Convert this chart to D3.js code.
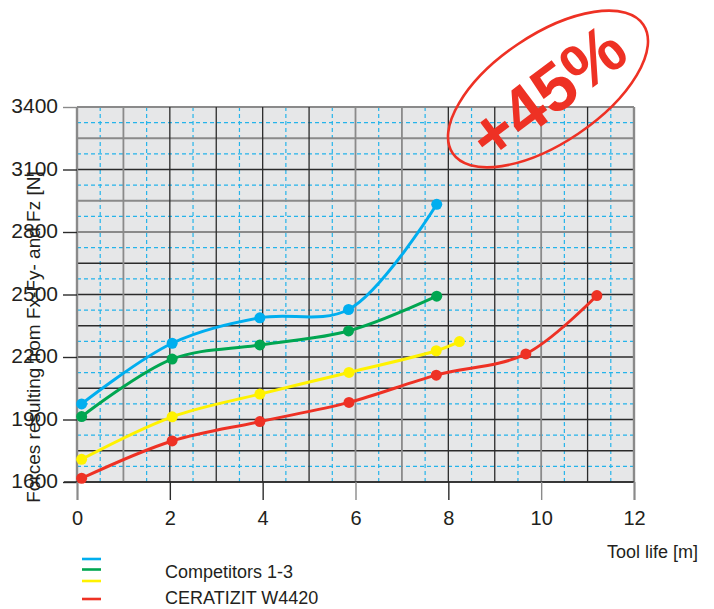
<!DOCTYPE html>
<html>
<head>
<meta charset="utf-8">
<script src="https://cdn.jsdelivr.net/npm/d3@7"></script>
<style>
  html, body { margin: 0; padding: 0; background: #ffffff; }
  svg { display: block; font-family: "Liberation Sans", Arial, Helvetica, sans-serif; }
</style>
</head>
<body>
<svg id="chart" width="714" height="609"></svg>
<script>
// ---------- data ----------
const xTicks = [0, 2, 4, 6, 8, 10, 12];
const yTicks = [1600, 1900, 2200, 2500, 2800, 3100, 3400];

const blueX   = [0.1, 2.05, 3.94, 5.85, 7.75];
const blueY   = [1975, 2266, 2388, 2428, 2933];
const greenX  = [0.1, 2.05, 3.94, 5.85, 7.75];
const greenY  = [1914, 2190, 2258, 2325, 2492];
const yellowX = [0.1, 2.05, 3.94, 5.86, 7.74, 8.24];
const yellowY = [1709, 1913, 2022, 2126, 2230, 2274];
const redX    = [0.1, 2.05, 3.94, 5.86, 7.74, 9.67, 11.2];
const redY    = [1618, 1797, 1890, 1982, 2113, 2215, 2495];

const legendLabels = ["Competitors 1-3", "CERATIZIT W4420"];
const yTitle = "Forces resulting from Fx-Fy- and Fz [N]";
const xTitle = "Tool life [m]";
const badgeText = "+45%";

// ---------- layout ----------
const svg = d3.select("#chart");
const L = 77, R = 634, T = 107, B = 482;
const x = d3.scaleLinear().domain([0, 12]).range([L, R]);
const y = d3.scaleLinear().domain([1600, 3400]).range([B, T]);

const TXT = "#231f20";
const DARK = "#2b2b2b";
const GRAY = "#8a8a8a";
const GRIDBLUE = "#25b4ea";
const C = { blue: "#00aeef", green: "#00a651", yellow: "#fff200", red: "#ee3124" };

// background
svg.append("rect").attr("x", L).attr("y", T).attr("width", R - L).attr("height", B - T).attr("fill", "#e6e7e8");

const grid = svg.append("g");
// dashed blue grid
grid.selectAll("line.dh").data(d3.range(1675, 3400, 150)).join("line")
  .attr("x1", L).attr("x2", R).attr("y1", d => y(d)).attr("y2", d => y(d))
  .attr("stroke", GRIDBLUE).attr("stroke-width", 1.2).attr("stroke-dasharray", "4,3");
grid.selectAll("line.dv").data(d3.range(0.5, 12, 1)).join("line")
  .attr("y1", T).attr("y2", B).attr("x1", d => x(d)).attr("x2", d => x(d))
  .attr("stroke", GRIDBLUE).attr("stroke-width", 1.2).attr("stroke-dasharray", "4,3");

// solid grid
const grayH = new Set([3400, 3250, 2950, 2800]);
grid.selectAll("line.sh").data(d3.range(1600, 3401, 150)).join("line")
  .attr("x1", L).attr("x2", R).attr("y1", d => y(d)).attr("y2", d => y(d))
  .attr("stroke", d => grayH.has(d) ? GRAY : DARK).attr("stroke-width", d => grayH.has(d) ? 1.8 : 1.3);
const grayV = new Set([0, 1, 6, 7, 10, 12]);
grid.selectAll("line.sv").data(d3.range(0, 13, 1)).join("line")
  .attr("y1", T).attr("y2", B).attr("x1", d => x(d)).attr("x2", d => x(d))
  .attr("stroke", d => grayV.has(d) ? GRAY : DARK)
  .attr("stroke-width", d => (d === 0 || d === 12) ? 2.4 : (grayV.has(d) ? 1.8 : 1.3));

// axes
const yAxis = svg.append("g").attr("transform", `translate(${L},0)`)
  .call(d3.axisLeft(y).tickValues(yTicks).tickSize(14).tickPadding(5).tickFormat(d3.format("d")));
yAxis.select(".domain").remove();
yAxis.selectAll(".tick line").attr("stroke", d => d === 3400 ? GRAY : DARK).attr("stroke-width", 1.4);
yAxis.selectAll(".tick text").attr("fill", TXT).style("font-size", "21px").attr("dy", "0.28em");

svg.append("line").attr("x1", 64).attr("x2", R).attr("y1", B).attr("y2", B).attr("stroke", DARK).attr("stroke-width", 1.6);

const xAxis = svg.append("g").attr("transform", `translate(0,${B})`)
  .call(d3.axisBottom(x).tickValues(xTicks).tickSize(18).tickPadding(11).tickFormat(d3.format("d")));
xAxis.select(".domain").remove();
xAxis.selectAll(".tick line").attr("stroke", d => [0, 6, 10, 12].includes(d) ? GRAY : DARK).attr("stroke-width", d => (d === 0 || d === 12) ? 2.2 : 1.4);
xAxis.selectAll(".tick text").attr("fill", TXT).style("font-size", "20px");

// titles
svg.append("text").attr("transform", "translate(40,337) rotate(-90)")
  .attr("text-anchor", "middle").attr("fill", TXT).style("font-size", "19px").text(yTitle);
svg.append("text").attr("x", 698).attr("y", 558).attr("text-anchor", "end")
  .attr("fill", TXT).style("font-size", "18px").text(xTitle);

// series
const series = [
  { xs: blueX, ys: blueY, color: C.blue },
  { xs: greenX, ys: greenY, color: C.green },
  { xs: yellowX, ys: yellowY, color: C.yellow },
  { xs: redX, ys: redY, color: C.red }
];
const line = d3.line().x(d => x(d[0])).y(d => y(d[1])).curve(d3.curveCatmullRom.alpha(0.5));
series.forEach(s => {
  const pts = s.xs.map((v, i) => [v, s.ys[i]]);
  svg.append("path").datum(pts).attr("d", line).attr("fill", "none")
    .attr("stroke", s.color).attr("stroke-width", 3);
  svg.append("g").selectAll("circle").data(pts).join("circle")
    .attr("cx", d => x(d[0])).attr("cy", d => y(d[1])).attr("r", 5.5).attr("fill", s.color);
});

// legend
const lg = svg.append("g");
[[559, C.blue], [569.5, C.green], [581, C.yellow], [599, C.red]].forEach(([yy, c]) => {
  lg.append("line").attr("x1", 82).attr("x2", 101).attr("y1", yy).attr("y2", yy).attr("stroke", c).attr("stroke-width", 2.6);
});
lg.append("text").attr("x", 165).attr("y", 578).attr("fill", TXT).style("font-size", "18px").text(legendLabels[0]);
lg.append("text").attr("x", 165).attr("y", 604).attr("fill", TXT).style("font-size", "18px").text(legendLabels[1]);

// badge
const badge = svg.append("g");
badge.append("ellipse").attr("cx", 0).attr("cy", 0).attr("rx", 115).attr("ry", 54)
  .attr("transform", "translate(548,89) rotate(-34)")
  .attr("fill", "none").attr("stroke", C.red).attr("stroke-width", 2.6);
badge.append("text").attr("transform", "translate(547,92) rotate(-37)")
  .attr("text-anchor", "middle").attr("dominant-baseline", "central")
  .attr("fill", C.red).style("font-size", "68px").style("font-weight", "bold").text(badgeText);
</script>
</body>
</html>
